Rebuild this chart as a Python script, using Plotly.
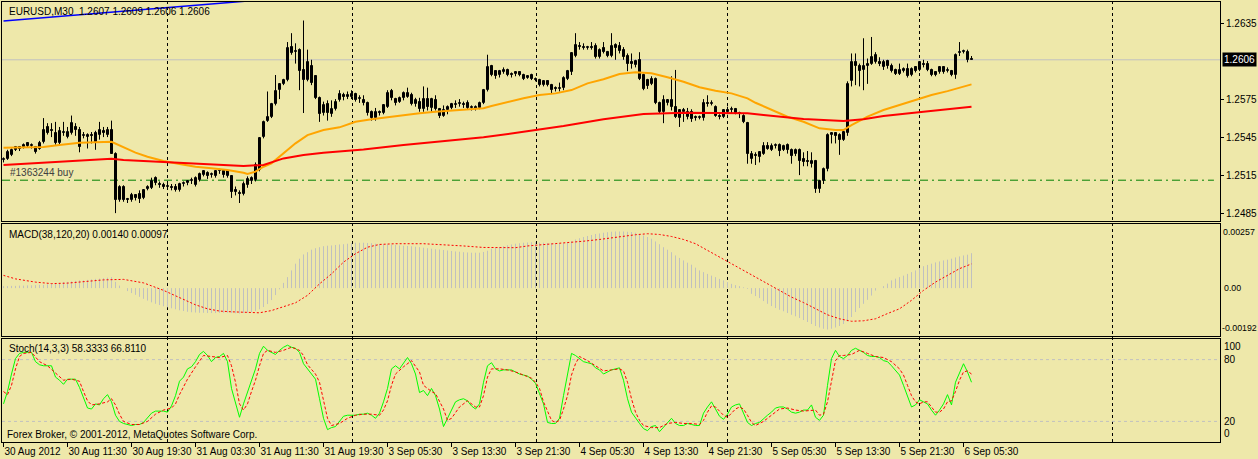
import plotly.graph_objects as go

# ---------------- data ----------------
tick_bars = [0, 16, 32, 48, 64, 80, 96, 112, 128, 144, 160, 176, 192, 208, 224, 240]
tick_labels = ["30 Aug 2012", "30 Aug 11:30", "30 Aug 19:30", "31 Aug 03:30", "31 Aug 11:30",
               "31 Aug 19:30", "3 Sep 05:30", "3 Sep 13:30", "3 Sep 21:30", "4 Sep 05:30",
               "4 Sep 13:30", "4 Sep 21:30", "5 Sep 05:30", "5 Sep 13:30", "5 Sep 21:30",
               "6 Sep 05:30"]

opens = [
    1.2527, 1.2528, 1.2531, 1.2535, 1.2537, 1.2537, 1.2540, 1.2538, 1.2537, 1.2536,
    1.2541, 1.2553, 1.2551, 1.2548, 1.2540, 1.2548, 1.2545, 1.2548, 1.2553, 1.2551,
    1.2546, 1.2545, 1.2547, 1.2548, 1.2547, 1.2550, 1.2547, 1.2551, 1.2532, 1.2495,
    1.2506, 1.2496, 1.2495, 1.2499, 1.2500, 1.2497, 1.2504, 1.2505, 1.2513, 1.2508,
    1.2507, 1.2506, 1.2506, 1.2506, 1.2503, 1.2508, 1.2509, 1.2510, 1.2507, 1.2511,
    1.2515, 1.2517, 1.2515, 1.2514, 1.2518, 1.2518, 1.2514, 1.2514, 1.2503, 1.2501,
    1.2500, 1.2507, 1.2510, 1.2511, 1.2519, 1.2545, 1.2558, 1.2561, 1.2571, 1.2582,
    1.2587, 1.2590, 1.2616, 1.2612, 1.2614, 1.2598, 1.2590, 1.2601, 1.2593, 1.2576,
    1.2564, 1.2571, 1.2563, 1.2567, 1.2574, 1.2578, 1.2577, 1.2577, 1.2579, 1.2575,
    1.2574, 1.2572, 1.2565, 1.2560, 1.2565, 1.2564, 1.2569, 1.2581, 1.2575, 1.2573,
    1.2576, 1.2577, 1.2578, 1.2571, 1.2573, 1.2567, 1.2575, 1.2568, 1.2574, 1.2567,
    1.2562, 1.2566, 1.2568, 1.2570, 1.2571, 1.2571, 1.2572, 1.2568, 1.2567, 1.2568,
    1.2572, 1.2582, 1.2601, 1.2597, 1.2594, 1.2596, 1.2598, 1.2595, 1.2595, 1.2596,
    1.2594, 1.2592, 1.2594, 1.2591, 1.2590, 1.2586, 1.2589, 1.2586, 1.2584, 1.2583,
    1.2584, 1.2591, 1.2596, 1.2609, 1.2617, 1.2616, 1.2615, 1.2616, 1.2617, 1.2608,
    1.2615, 1.2612, 1.2609, 1.2618, 1.2617, 1.2614, 1.2609, 1.2604, 1.2602, 1.2606,
    1.2594, 1.2590, 1.2587, 1.2591, 1.2572, 1.2565, 1.2572, 1.2574, 1.2569, 1.2560,
    1.2565, 1.2561, 1.2565, 1.2561, 1.2560, 1.2560, 1.2572, 1.2571, 1.2569, 1.2562,
    1.2561, 1.2566, 1.2566, 1.2567, 1.2564, 1.2562, 1.2556, 1.2528, 1.2531, 1.2529,
    1.2532, 1.2538, 1.2535, 1.2538, 1.2539, 1.2535, 1.2539, 1.2535, 1.2532, 1.2535,
    1.2528, 1.2526, 1.2524, 1.2526, 1.2504, 1.2510, 1.2520, 1.2547, 1.2548, 1.2547,
    1.2543, 1.2548, 1.2589, 1.2604, 1.2601, 1.2598, 1.2601, 1.2603, 1.2604, 1.2604,
    1.2600, 1.2605, 1.2601, 1.2598, 1.2595, 1.2597, 1.2599, 1.2594, 1.2600, 1.2598,
    1.2603, 1.2603, 1.2598, 1.2596, 1.2596, 1.2600, 1.2597, 1.2597, 1.2594, 1.2611,
    1.2612, 1.2612, 1.2607]

highs = [
    1.2529, 1.2535, 1.2536, 1.2538, 1.2538, 1.2540, 1.2541, 1.2540, 1.2538, 1.2542,
    1.2560, 1.2556, 1.2556, 1.2557, 1.2553, 1.2557, 1.2553, 1.2562, 1.2556, 1.2553,
    1.2549, 1.2548, 1.2549, 1.2550, 1.2557, 1.2553, 1.2553, 1.2558, 1.2533, 1.2507,
    1.2507, 1.2497, 1.2501, 1.2500, 1.2503, 1.2504, 1.2507, 1.2513, 1.2514, 1.2510,
    1.2509, 1.2508, 1.2508, 1.2508, 1.2509, 1.2510, 1.2511, 1.2513, 1.2514, 1.2517,
    1.2519, 1.2518, 1.2517, 1.2519, 1.2520, 1.2519, 1.2519, 1.2515, 1.2506, 1.2503,
    1.2510, 1.2514, 1.2514, 1.2525, 1.2545, 1.2558, 1.2581, 1.2572, 1.2594, 1.2587,
    1.2591, 1.2620, 1.2627, 1.2619, 1.2615, 1.2637, 1.2614, 1.2606, 1.2594, 1.2577,
    1.2573, 1.2574, 1.2574, 1.2575, 1.2582, 1.2580, 1.2581, 1.2582, 1.2580, 1.2578,
    1.2578, 1.2573, 1.2566, 1.2568, 1.2566, 1.2571, 1.2582, 1.2583, 1.2576, 1.2577,
    1.2581, 1.2584, 1.2580, 1.2576, 1.2576, 1.2585, 1.2584, 1.2576, 1.2578, 1.2568,
    1.2570, 1.2570, 1.2572, 1.2574, 1.2575, 1.2573, 1.2574, 1.2570, 1.2570, 1.2573,
    1.2583, 1.2610, 1.2602, 1.2597, 1.2598, 1.2600, 1.2599, 1.2596, 1.2597, 1.2597,
    1.2595, 1.2594, 1.2595, 1.2592, 1.2591, 1.2590, 1.2590, 1.2587, 1.2585, 1.2588,
    1.2593, 1.2598, 1.2612, 1.2627, 1.2620, 1.2619, 1.2617, 1.2620, 1.2619, 1.2615,
    1.2620, 1.2613, 1.2627, 1.2619, 1.2620, 1.2616, 1.2611, 1.2611, 1.2606, 1.2612,
    1.2595, 1.2591, 1.2593, 1.2592, 1.2573, 1.2578, 1.2575, 1.2593, 1.2598, 1.2567,
    1.2568, 1.2568, 1.2567, 1.2562, 1.2562, 1.2575, 1.2578, 1.2574, 1.2570, 1.2563,
    1.2567, 1.2569, 1.2569, 1.2568, 1.2565, 1.2563, 1.2557, 1.2534, 1.2533, 1.2534,
    1.2541, 1.2541, 1.2540, 1.2540, 1.2540, 1.2539, 1.2540, 1.2536, 1.2536, 1.2536,
    1.2533, 1.2534, 1.2533, 1.2527, 1.2511, 1.2521, 1.2548, 1.2549, 1.2549, 1.2548,
    1.2550, 1.2589, 1.2611, 1.2611, 1.2603, 1.2623, 1.2607, 1.2624, 1.2612, 1.2608,
    1.2606, 1.2606, 1.2603, 1.2599, 1.2603, 1.2600, 1.2603, 1.2600, 1.2601, 1.2605,
    1.2606, 1.2605, 1.2599, 1.2597, 1.2601, 1.2601, 1.2600, 1.2598, 1.2611, 1.2620,
    1.2614, 1.2614, 1.2609]

lows = [
    1.2525, 1.2527, 1.2530, 1.2534, 1.2534, 1.2536, 1.2537, 1.2536, 1.2532, 1.2535,
    1.2540, 1.2547, 1.2545, 1.2539, 1.2538, 1.2546, 1.2544, 1.2547, 1.2546, 1.2533,
    1.2544, 1.2536, 1.2540, 1.2535, 1.2543, 1.2545, 1.2545, 1.2532, 1.2485, 1.2494,
    1.2494, 1.2493, 1.2494, 1.2495, 1.2493, 1.2496, 1.2503, 1.2504, 1.2507, 1.2505,
    1.2504, 1.2504, 1.2503, 1.2502, 1.2502, 1.2506, 1.2507, 1.2508, 1.2506, 1.2510,
    1.2514, 1.2512, 1.2513, 1.2513, 1.2516, 1.2513, 1.2513, 1.2497, 1.2499, 1.2493,
    1.2499, 1.2505, 1.2508, 1.2510, 1.2518, 1.2544, 1.2557, 1.2560, 1.2570, 1.2575,
    1.2586, 1.2589, 1.2610, 1.2603, 1.2582, 1.2564, 1.2589, 1.2586, 1.2575, 1.2557,
    1.2562, 1.2558, 1.2561, 1.2566, 1.2573, 1.2574, 1.2575, 1.2575, 1.2573, 1.2572,
    1.2570, 1.2562, 1.2558, 1.2558, 1.2562, 1.2563, 1.2568, 1.2574, 1.2570, 1.2572,
    1.2574, 1.2576, 1.2570, 1.2569, 1.2565, 1.2565, 1.2566, 1.2565, 1.2566, 1.2560,
    1.2561, 1.2563, 1.2567, 1.2568, 1.2569, 1.2568, 1.2567, 1.2566, 1.2566, 1.2567,
    1.2571, 1.2581, 1.2593, 1.2591, 1.2592, 1.2595, 1.2593, 1.2592, 1.2593, 1.2593,
    1.2590, 1.2591, 1.2590, 1.2589, 1.2585, 1.2585, 1.2585, 1.2579, 1.2581, 1.2581,
    1.2582, 1.2590, 1.2594, 1.2608, 1.2614, 1.2614, 1.2614, 1.2614, 1.2607, 1.2607,
    1.2611, 1.2608, 1.2608, 1.2606, 1.2611, 1.2606, 1.2597, 1.2599, 1.2600, 1.2590,
    1.2582, 1.2583, 1.2586, 1.2571, 1.2564, 1.2556, 1.2570, 1.2566, 1.2560, 1.2553,
    1.2557, 1.2559, 1.2557, 1.2558, 1.2559, 1.2558, 1.2569, 1.2570, 1.2561, 1.2559,
    1.2560, 1.2563, 1.2564, 1.2563, 1.2560, 1.2556, 1.2524, 1.2524, 1.2523, 1.2525,
    1.2531, 1.2535, 1.2534, 1.2536, 1.2530, 1.2534, 1.2532, 1.2524, 1.2530, 1.2515,
    1.2522, 1.2522, 1.2521, 1.2501, 1.2501, 1.2508, 1.2518, 1.2540, 1.2540, 1.2531,
    1.2542, 1.2546, 1.2585, 1.2586, 1.2585, 1.2582, 1.2587, 1.2602, 1.2603, 1.2601,
    1.2598, 1.2599, 1.2596, 1.2594, 1.2594, 1.2596, 1.2592, 1.2593, 1.2596, 1.2597,
    1.2600, 1.2597, 1.2593, 1.2593, 1.2595, 1.2595, 1.2596, 1.2593, 1.2591, 1.2609,
    1.2611, 1.2604, 1.2606]

closes = [
    1.2528, 1.2533, 1.2535, 1.2537, 1.2536, 1.2539, 1.2538, 1.2538, 1.2533, 1.2540,
    1.2551, 1.2548, 1.2550, 1.2540, 1.2550, 1.2548, 1.2549, 1.2556, 1.2551, 1.2537,
    1.2547, 1.2547, 1.2546, 1.2541, 1.2551, 1.2548, 1.2551, 1.2532, 1.2495, 1.2506,
    1.2495, 1.2495, 1.2499, 1.2497, 1.2496, 1.2503, 1.2506, 1.2510, 1.2509, 1.2507,
    1.2506, 1.2506, 1.2505, 1.2503, 1.2508, 1.2509, 1.2510, 1.2511, 1.2513, 1.2516,
    1.2518, 1.2514, 1.2515, 1.2518, 1.2519, 1.2515, 1.2518, 1.2502, 1.2502, 1.2500,
    1.2508, 1.2512, 1.2513, 1.2523, 1.2544, 1.2557, 1.2561, 1.2571, 1.2581, 1.2587,
    1.2590, 1.2615, 1.2611, 1.2613, 1.2597, 1.2590, 1.2604, 1.2588, 1.2576, 1.2563,
    1.2570, 1.2564, 1.2567, 1.2573, 1.2579, 1.2577, 1.2578, 1.2579, 1.2574, 1.2576,
    1.2572, 1.2564, 1.2560, 1.2565, 1.2564, 1.2570, 1.2580, 1.2576, 1.2572, 1.2576,
    1.2580, 1.2580, 1.2571, 1.2574, 1.2567, 1.2575, 1.2569, 1.2575, 1.2567, 1.2562,
    1.2566, 1.2569, 1.2571, 1.2571, 1.2572, 1.2570, 1.2568, 1.2568, 1.2569, 1.2572,
    1.2582, 1.2600, 1.2594, 1.2593, 1.2597, 1.2598, 1.2594, 1.2594, 1.2596, 1.2594,
    1.2591, 1.2593, 1.2591, 1.2590, 1.2586, 1.2589, 1.2586, 1.2582, 1.2583, 1.2584,
    1.2592, 1.2597, 1.2611, 1.2618, 1.2616, 1.2615, 1.2616, 1.2615, 1.2608, 1.2614,
    1.2612, 1.2609, 1.2617, 1.2615, 1.2613, 1.2608, 1.2603, 1.2603, 1.2605, 1.2591,
    1.2583, 1.2585, 1.2591, 1.2572, 1.2565, 1.2574, 1.2574, 1.2569, 1.2561, 1.2566,
    1.2566, 1.2565, 1.2559, 1.2560, 1.2561, 1.2572, 1.2571, 1.2572, 1.2562, 1.2561,
    1.2566, 1.2565, 1.2567, 1.2564, 1.2563, 1.2557, 1.2532, 1.2532, 1.2530, 1.2533,
    1.2538, 1.2536, 1.2538, 1.2539, 1.2534, 1.2538, 1.2535, 1.2530, 1.2535, 1.2526,
    1.2525, 1.2525, 1.2526, 1.2504, 1.2510, 1.2520, 1.2547, 1.2548, 1.2546, 1.2543,
    1.2549, 1.2587, 1.2604, 1.2601, 1.2597, 1.2601, 1.2603, 1.2608, 1.2610, 1.2603,
    1.2604, 1.2601, 1.2597, 1.2595, 1.2598, 1.2599, 1.2593, 1.2599, 1.2597, 1.2604,
    1.2602, 1.2598, 1.2594, 1.2594, 1.2600, 1.2596, 1.2597, 1.2594, 1.2610, 1.2612,
    1.2612, 1.2606, 1.2606]

# orange moving average (sampled bars / values)
ma_fast_bars = [0, 10, 14, 19, 27, 30, 33, 36, 40, 44,
                48, 52, 56, 60, 61, 63, 65, 67, 70, 73,
                76, 80, 84, 88, 92, 96, 100, 104, 108, 112,
                116, 120, 122, 124, 126, 130, 134, 138, 142, 146,
                150, 154, 158, 162, 166, 170, 174, 178, 182, 186,
                188, 192, 196, 200, 204, 208, 210, 212, 216, 220,
                224, 228, 232, 236, 240, 242]
ma_fast = [1.25366, 1.25372, 1.25387, 1.25406, 1.25413, 1.25372, 1.25327, 1.25295, 1.25261, 1.25238,
           1.25216, 1.25204, 1.25190, 1.25169, 1.25159, 1.25177, 1.25216, 1.25243, 1.25322, 1.25401,
           1.25466, 1.25506, 1.25527, 1.25571, 1.25590, 1.25606, 1.25624, 1.25638, 1.25650, 1.25658,
           1.25664, 1.25677, 1.25695, 1.25711, 1.25729, 1.25756, 1.25782, 1.25795, 1.25821, 1.25874,
           1.25906, 1.25948, 1.25961, 1.25953, 1.25922, 1.25887, 1.25843, 1.25816, 1.25795, 1.25756,
           1.25721, 1.25669, 1.25611, 1.25571, 1.25519, 1.25506, 1.25506, 1.25545, 1.25611, 1.25664,
           1.25703, 1.25742, 1.25782, 1.25813, 1.25847, 1.25866]

# red moving average
ma_slow_bars = [0, 10, 20, 27, 30, 40, 50, 60, 65, 70,
                75, 80, 90, 100, 110, 120, 130, 140, 150, 160,
                170, 180, 186, 190, 200, 205, 210, 215, 220, 230, 242]
ma_slow = [1.25230, 1.25248, 1.25269, 1.25279, 1.25269, 1.25251, 1.25238, 1.25222, 1.25230, 1.25282,
           1.25309, 1.25327, 1.25353, 1.25387, 1.25419, 1.25448, 1.25492, 1.25537, 1.25590, 1.25632,
           1.25642, 1.25642, 1.25638, 1.25624, 1.25593, 1.25585, 1.25577, 1.25590, 1.25616, 1.25650,
           1.25690]

# MACD histogram, in units of 0.00001
macd_hist_e5 = [
    8, 8, 9, 9, 10, 10, 11, 11, 12, 13,
    13, 15, 17, 19, 21, 24, 25, 27, 29, 31,
    31, 33, 35, 37, 38, 40, 42, 44, 25, 10,
    0, -12, -20, -27, -35, -43, -50, -57, -63, -68,
    -73, -77, -81, -85, -89, -92, -95, -97, -98, -99,
    -99, -100, -100, -100, -99, -99, -99, -100, -101, -102,
    -100, -98, -96, -92, -85, -76, -64, -48, -28, -5,
    21, 44, 71, 98, 118, 135, 144, 154, 160, 164,
    168, 170, 171, 173, 175, 176, 178, 180, 182, 182,
    182, 181, 180, 178, 177, 176, 175, 174, 173, 171,
    170, 169, 168, 166, 164, 162, 160, 158, 156, 155,
    153, 151, 149, 147, 146, 144, 143, 142, 142, 142,
    145, 150, 158, 162, 165, 168, 172, 175, 178, 180,
    182, 183, 184, 184, 183, 182, 181, 180, 178, 179,
    180, 183, 188, 195, 200, 205, 209, 213, 217, 219,
    222, 224, 226, 227, 227, 227, 226, 225, 222, 217,
    211, 205, 198, 187, 176, 164, 154, 144, 131, 121,
    111, 102, 94, 82, 71, 64, 57, 50, 44, 37,
    31, 24, 17, 12, 8, 3, -3, -23, -32, -40,
    -52, -63, -72, -80, -87, -93, -100, -107, -113, -120,
    -128, -136, -144, -152, -158, -163, -166, -163, -158, -152,
    -144, -134, -116, -96, -80, -63, -47, -30, -10, 0,
    8, 18, 31, 38, 44, 50, 57, 64, 71, 80,
    88, 93, 98, 103, 107, 111, 114, 118, 123, 127,
    131, 134, 140]

# MACD signal (sampled), units of 0.00001
macd_sig_bars = [0, 3, 8, 12, 16, 20, 25, 30, 35, 40,
                 42, 45, 48, 51, 54, 57, 60, 64, 67, 70,
                 73, 76, 79, 82, 85, 88, 91, 94, 98, 105,
                 110, 115, 120, 125, 128, 131, 135, 138, 141, 145,
                 149, 152, 155, 158, 161, 164, 167, 170, 173, 176,
                 179, 182, 185, 188, 191, 194, 197, 200, 203, 206,
                 209, 212, 215, 218, 221, 224, 227, 230, 233, 236,
                 239, 242]
macd_sig_e5 = [51, 37, 24, 18, 20, 27, 33, 35, 21, -9,
               -23, -45, -67, -83, -92, -95, -97, -99, -90, -76,
               -59, -29, 17, 57, 104, 138, 164, 175, 178, 178,
               174, 169, 163, 161, 162, 169, 174, 178, 183, 188,
               195, 202, 207, 214, 218, 215, 207, 195, 178, 151,
               124, 98, 71, 44, 17, -9, -36, -58, -83, -107,
               -123, -133, -131, -123, -102, -83, -49, -9, 24, 51,
               78, 97]

# Stochastic main line
stoch_main = [
    37, 49, 66, 81, 86, 87, 87, 87, 78, 75,
    74, 74, 74, 63, 60, 56, 61, 61, 61, 53,
    42, 33, 32, 37, 36, 42, 46, 39, 26, 20,
    18, 17, 16, 17, 17, 19, 23, 28, 30, 30,
    30, 29, 35, 45, 59, 63, 71, 73, 78, 85,
    88, 84, 78, 82, 83, 86, 78, 52, 37, 24,
    37, 49, 59, 71, 86, 93, 89, 87, 85, 89,
    92, 94, 92, 91, 87, 76, 71, 66, 61, 42,
    23, 12, 14, 15, 20, 25, 26, 26, 26, 27,
    27, 28, 26, 23, 28, 39, 52, 71, 74, 71,
    76, 82, 76, 66, 48, 50, 45, 52, 45, 32,
    15, 23, 31, 39, 41, 42, 40, 35, 32, 37,
    58, 74, 77, 71, 69, 70, 70, 70, 68, 66,
    65, 64, 61, 57, 47, 37, 19, 18, 18, 23,
    45, 65, 86, 84, 81, 78, 77, 76, 72, 70,
    66, 68, 70, 71, 72, 60, 42, 29, 23, 18,
    13, 11, 15, 16, 10, 14, 18, 23, 18, 16,
    16, 18, 17, 16, 16, 28, 34, 39, 32, 25,
    22, 27, 34, 36, 37, 28, 19, 16, 18, 19,
    23, 26, 29, 33, 34, 34, 32, 29, 28, 29,
    31, 31, 36, 24, 21, 26, 55, 81, 89, 83,
    81, 84, 89, 91, 89, 87, 84, 83, 83, 82,
    79, 78, 74, 70, 65, 55, 45, 34, 36, 41,
    39, 37, 31, 26, 31, 37, 46, 36, 58, 68,
    76, 68, 58]

# Stochastic signal line (sampled)
stoch_sig_bars = [0, 1, 2, 3, 4, 5, 7, 8, 9, 11,
                  13, 14, 15, 17, 19, 20, 21, 22, 24, 26,
                  27, 28, 29, 30, 32, 34, 36, 38, 40, 42,
                  43, 44, 46, 48, 50, 52, 54, 56, 57, 58,
                  59, 60, 61, 62, 63, 64, 65, 66, 68, 70,
                  72, 74, 75, 76, 78, 79, 80, 81, 82, 84,
                  86, 88, 90, 92, 94, 95, 96, 97, 98, 100,
                  102, 104, 105, 107, 108, 110, 111, 112, 114, 116,
                  118, 119, 120, 121, 122, 124, 126, 128, 130, 132,
                  133, 134, 135, 136, 137, 138, 139, 140, 141, 142,
                  143, 144, 146, 148, 150, 152, 154, 155, 156, 157,
                  158, 159, 160, 162, 164, 166, 168, 170, 172, 174,
                  175, 176, 177, 178, 179, 180, 181, 182, 183, 184,
                  185, 186, 187, 188, 190, 192, 194, 196, 198, 200,
                  202, 203, 204, 205, 206, 207, 208, 209, 210, 212,
                  214, 216, 218, 220, 222, 224, 225, 226, 227, 228,
                  229, 230, 231, 232, 233, 234, 235, 236, 237, 238,
                  239, 240, 241, 242]
stoch_sig = [49, 46, 55, 71, 83, 86, 87, 83, 78, 74,
             67, 63, 60, 61, 59, 49, 40, 36, 37, 39,
             42, 36, 27, 20, 17, 17, 20, 27, 31, 33,
             37, 46, 61, 73, 84, 83, 82, 84, 74, 58,
             37, 31, 37, 49, 60, 74, 86, 89, 87, 89,
             92, 89, 84, 75, 66, 58, 39, 23, 16, 18,
             23, 26, 27, 27, 26, 31, 40, 55, 66, 73,
             79, 68, 55, 49, 47, 32, 21, 23, 34, 40,
             34, 34, 45, 63, 71, 71, 70, 68, 65, 62,
             58, 52, 39, 29, 21, 19, 21, 32, 45, 65,
             76, 83, 79, 74, 69, 70, 71, 69, 58, 42,
             29, 21, 16, 14, 14, 18, 19, 18, 18, 17,
             21, 29, 35, 34, 30, 26, 24, 28, 32, 34,
             32, 26, 19, 16, 20, 26, 32, 33, 31, 30,
             31, 31, 26, 27, 39, 61, 79, 84, 84, 85,
             89, 86, 83, 82, 78, 71, 65, 55, 45, 39,
             37, 39, 39, 34, 29, 29, 32, 39, 40, 49,
             60, 68, 69, 66]

separator_bars = [41, 87.25, 133.25, 181, 229, 277.25]
order_price = 1.2511
bid_price = 1.2606
trend_bars = [0, 70]
trend_prices = [1.26366, 1.26547]
main_ticks = [1.2635, 1.2575, 1.2545, 1.2515, 1.2485]

# ---------------- figure ----------------
BG = "#EEE8AA"
FONT = "Liberation Sans"
FS = 10

n = len(opens)
idx = list(range(n))
fig = go.Figure()

# candle wicks
wx, wy = [], []
for i in idx:
    wx += [i, i, None]
    wy += [lows[i], highs[i], None]
fig.add_trace(go.Scatter(x=wx, y=wy, mode="lines", line=dict(color="black", width=1),
                         xaxis="x", yaxis="y", hoverinfo="skip"))

# candle bodies
base = [min(o, c) for o, c in zip(opens, closes)]
height = [max(abs(c - o), 0.00008) for o, c in zip(opens, closes)]
colors = ["white" if c >= o else "black" for o, c in zip(opens, closes)]
fig.add_trace(go.Bar(x=idx, y=height, base=base, width=0.5,
                     marker=dict(color=colors, line=dict(color="black", width=1)),
                     xaxis="x", yaxis="y", hoverinfo="skip"))

# moving averages
fig.add_trace(go.Scatter(x=ma_fast_bars, y=ma_fast, mode="lines",
                         line=dict(color="#FFA500", width=2), xaxis="x", yaxis="y"))
fig.add_trace(go.Scatter(x=ma_slow_bars, y=ma_slow, mode="lines",
                         line=dict(color="#FF0000", width=2), xaxis="x", yaxis="y"))
# trendline
fig.add_trace(go.Scatter(x=trend_bars, y=trend_prices, mode="lines",
                         line=dict(color="#0000FF", width=1.5), xaxis="x", yaxis="y"))

# MACD histogram
hx, hy = [], []
for i, v in enumerate(macd_hist_e5):
    hx += [i, i, None]
    hy += [0, v * 1e-5, None]
fig.add_trace(go.Scatter(x=hx, y=hy, mode="lines", line=dict(color="#C0C0C0", width=1),
                         xaxis="x2", yaxis="y2", hoverinfo="skip"))
fig.add_trace(go.Scatter(x=macd_sig_bars, y=[v * 1e-5 for v in macd_sig_e5], mode="lines",
                         line=dict(color="#FF0000", width=1, dash="2px,2px"),
                         xaxis="x2", yaxis="y2"))

# Stochastic
fig.add_trace(go.Scatter(x=idx, y=stoch_main, mode="lines",
                         line=dict(color="#00FF00", width=1), xaxis="x3", yaxis="y3"))
fig.add_trace(go.Scatter(x=stoch_sig_bars, y=stoch_sig, mode="lines",
                         line=dict(color="#FF0000", width=1, dash="3px,2px"),
                         xaxis="x3", yaxis="y3"))

# layout geometry
W, H = 1258, 459
ML, MR, MT, MB = 2, 38, 2, 17
plot_h = H - MT - MB           # 440
bottom_px = H - MB             # 442


def dom(top_px, bot_px):
    return [(bottom_px - bot_px) / plot_h, (bottom_px - top_px) / plot_h]


xr = [(2 - 3.5) / 4, (1220 - 3.5) / 4]
ax_common = dict(showgrid=False, zeroline=False, showline=True, linecolor="black",
                 linewidth=1, mirror=True)

shapes = []
for sb in separator_bars:
    shapes.append(dict(type="line", xref="x", yref="paper", x0=sb, x1=sb, y0=0, y1=1,
                       line=dict(color="black", width=1, dash="3px,3px"), layer="below"))
shapes.append(dict(type="line", xref="x domain", yref="y", x0=0, x1=1, y0=bid_price, y1=bid_price,
                   line=dict(color="#C0C0C0", width=1), layer="below"))
shapes.append(dict(type="line", xref="x domain", yref="y", x0=0, x1=0.995, y0=order_price,
                   y1=order_price, line=dict(color="#008000", width=1, dash="8px,4px,2px,4px"),
                   layer="below"))
for lv in [80, 20]:
    shapes.append(dict(type="line", xref="x3 domain", yref="y3", x0=0, x1=1, y0=lv, y1=lv,
                       line=dict(color="#C0C0C0", width=1, dash="3px,3px"), layer="below"))

tf = dict(family=FONT, size=FS, color="black")
tf_small = dict(family=FONT, size=8.8, color="black")


def ptext(text, px, py, **kw):
    d = dict(text=text, xref="paper", yref="paper", x=(px - ML) / (W - ML - MR),
             y=(bottom_px - py) / plot_h, xanchor="left", yanchor="middle",
             showarrow=False, font=tf)
    d.update(kw)
    return d


annotations = [
    ptext("EURUSD,M30  1.2607 1.2609 1.2606 1.2606", 7, 11),
    ptext("MACD(38,120,20) 0.00140 0.00097", 7, 234),
    ptext("Stoch(14,3,3) 58.3333 66.8110", 7, 348),
    ptext("Forex Broker, © 2001-2012, MetaQuotes Software Corp.", 5, 434),
    dict(text="#1363244 buy", xref="x", yref="y", x=1, y=order_price, xanchor="left",
         yanchor="bottom", yshift=0, showarrow=False,
         font=dict(family=FONT, size=FS, color="#404040")),
    dict(text="1.2606", xref="paper", yref="y", x=1, y=bid_price, xanchor="left",
         yanchor="middle", xshift=2, showarrow=False, bgcolor="black", borderpad=1,
         font=dict(family=FONT, size=FS, color="white")),
    # MACD scale labels
    dict(text="0.00257", xref="paper", yref="y2", x=1, y=0.00257, xanchor="left",
         yanchor="top", xshift=1, yshift=-1, showarrow=False, font=tf_small),
    dict(text="0.00", xref="paper", yref="y2", x=1, y=0, xanchor="left",
         yanchor="middle", xshift=2, showarrow=False, font=tf_small),
    dict(text="-0.00192", xref="paper", yref="y2", x=1, y=-0.00192, xanchor="left",
         yanchor="bottom", xshift=0, yshift=1, showarrow=False, font=tf_small),
    # Stoch scale labels
    dict(text="100", xref="paper", yref="y3", x=1, y=100, xanchor="left",
         yanchor="top", xshift=2, yshift=0, showarrow=False, font=tf),
    dict(text="80", xref="paper", yref="y3", x=1, y=80, xanchor="left",
         yanchor="middle", xshift=2, showarrow=False, font=tf),
    dict(text="20", xref="paper", yref="y3", x=1, y=20, xanchor="left",
         yanchor="middle", xshift=2, showarrow=False, font=tf),
    dict(text="0", xref="paper", yref="y3", x=1, y=0, xanchor="left",
         yanchor="bottom", xshift=2, yshift=1, showarrow=False, font=tf),
]

fig.update_layout(
    width=W, height=H, margin=dict(l=ML, r=MR, t=MT, b=MB, autoexpand=False),
    paper_bgcolor=BG, plot_bgcolor=BG, showlegend=False, hovermode=False,
    barmode="overlay", bargap=0, font=tf,
    xaxis=dict(domain=[0, 1], anchor="y", range=xr, showticklabels=False, ticks="", **ax_common),
    xaxis2=dict(domain=[0, 1], anchor="y2", matches="x", range=xr, showticklabels=False,
                ticks="", **ax_common),
    xaxis3=dict(domain=[0, 1], anchor="y3", matches="x", range=xr, tickmode="array",
                tickvals=tick_bars, ticktext=tick_labels, ticks="outside", ticklen=4,
                tickangle=0, automargin=False,
                tickcolor="black", ticklabelposition="outside right", tickfont=tf, **ax_common),
    yaxis=dict(domain=dom(2, 221), anchor="x", side="right", range=[1.24788, 1.26516],
               tickmode="array", tickvals=main_ticks, ticktext=["%.4f" % v for v in main_ticks],
               ticks="outside", ticklen=3, tickcolor="black", tickfont=tf, automargin=False,
               **ax_common),
    yaxis2=dict(domain=dom(224, 336), anchor="x2", side="right", range=[-0.00192, 0.00257],
                showticklabels=False, ticks="", automargin=False, **ax_common),
    yaxis3=dict(domain=dom(339, 442), anchor="x3", side="right", range=[0, 100],
                showticklabels=False, ticks="", automargin=False, **ax_common),
    shapes=shapes, annotations=annotations,
)

fig.write_html("out.html", config={"displayModeBar": False},
               post_script="document.body.style.margin='0';document.body.style.padding='0';"
                           "document.body.style.overflow='hidden';")
